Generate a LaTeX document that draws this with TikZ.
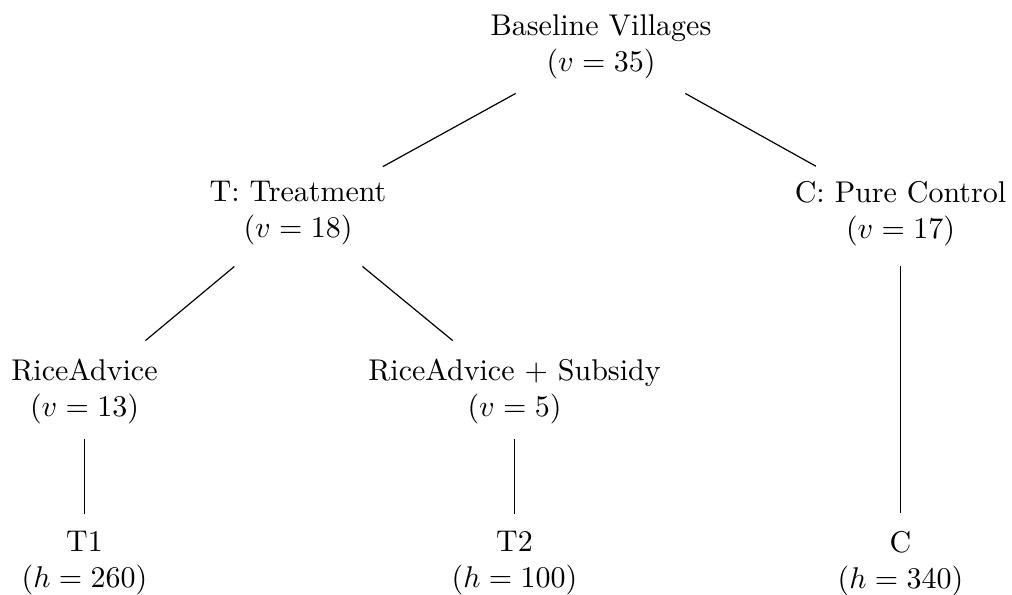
\documentclass[tikz,border=0pt]{standalone}
\begin{document}
\begin{tikzpicture}[x=0.33333pt,y=-0.33333pt,
  tnode/.style={align=center,inner xsep=5pt,inner ysep=4.75pt,anchor=center},
  tedge/.style={draw=black,line width=0.4pt}]
\useasboundingbox (0,0) rectangle (1012,594);
\node[tnode] (base) at (601,46.4) {Baseline Villages\\($v=35$)};
\node[tnode] (T) at (298,213.4) {T: Treatment\\($v=18$)};
\node[tnode] (C) at (900.5,213.4) {C: Pure Control\\($v=17$)};
\node[tnode] (RA) at (84.5,391.4) {RiceAdvice\\($v=13$)};
\node[tnode] (RAS) at (514.5,391.4) {RiceAdvice + Subsidy\\($v=5$)};
\node[tnode] (T1) at (84.5,563.4) {T1\\($h=260$)};
\node[tnode] (T2) at (514.5,563.4) {T2\\($h=100$)};
\node[tnode] (Cb) at (900.5,563.4) {C\\($h=340$)};
\draw[tedge] (base) -- (T);
\draw[tedge] (base) -- (C);
\draw[tedge,shorten <=3.3pt,shorten >=1.8pt] (T) -- (RA);
\draw[tedge,shorten <=3.3pt,shorten >=1.8pt] (T) -- (RAS);
\draw[tedge,shorten <=1.9pt,shorten >=1pt] (C) -- (Cb);
\draw[tedge,shorten >=1pt] (RA) -- (T1);
\draw[tedge,shorten >=1pt] (RAS) -- (T2);
\end{tikzpicture}
\end{document}
